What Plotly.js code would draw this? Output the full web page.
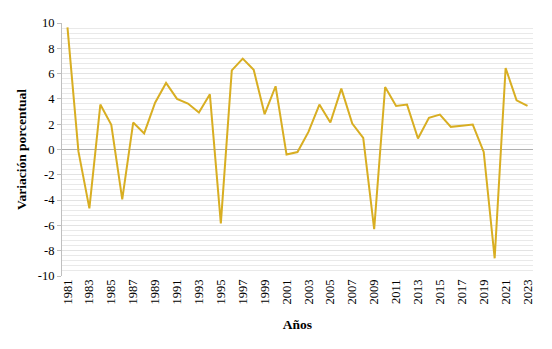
<!DOCTYPE html>
<html>
<head>
<meta charset="utf-8">
<script src="https://cdn.plot.ly/plotly-3.0.1.min.js"></script>
<style>
html,body{margin:0;padding:0;background:#fff;}
#chart{width:552px;height:349px;}
</style>
</head>
<body>
<div id="chart"></div>
<script>
const years = [1981,1982,1983,1984,1985,1986,1987,1988,1989,1990,
               1991,1992,1993,1994,1995,1996,1997,1998,1999,2000,
               2001,2002,2003,2004,2005,2006,2007,2008,2009,2010,
               2011,2012,2013,2014,2015,2016,2017,2018,2019,2020,
               2021,2022,2023];
const variacion = [9.65,-0.15,-4.65,3.55,1.95,-3.95,2.13,1.27,3.7,5.26,
                   4.0,3.63,2.92,4.36,-5.84,6.26,7.18,6.3,2.79,5.0,
                   -0.4,-0.2,1.39,3.55,2.13,4.81,2.05,0.92,-6.3,4.94,
                   3.44,3.55,0.87,2.5,2.76,1.79,1.87,1.97,-0.19,-8.6,
                   6.44,3.89,3.44];
const xTickYears = [1981,1983,1985,1987,1989,1991,1993,1995,1997,1999,
                    2001,2003,2005,2007,2009,2011,2013,2015,2017,2019,2021,2023];
const yTickVals = [-10,-8,-6,-4,-2,0,2,4,6,8,10];
const yTickText = ["-10","-8","-6","-4","-2","0","2","4","6","8","10"];

const serif = "Liberation Serif, Times New Roman, serif";

const trace = {
  x: years,
  y: variacion,
  type: "scatter",
  mode: "lines",
  line: {color: "#D8AE22", width: 2},
  hoverinfo: "x+y"
};

const layout = {
  width: 552,
  height: 349,
  margin: {l: 62, r: 19, t: 23, b: 73},
  paper_bgcolor: "#ffffff",
  plot_bgcolor: "#ffffff",
  showlegend: false,
  font: {family: serif, color: "#000000", size: 12},
  xaxis: {
    range: [1980.5, 2023.5],
    tickmode: "array",
    tickvals: xTickYears,
    ticktext: xTickYears.map(String),
    tickangle: -90,
    showgrid: false,
    zeroline: false,
    showline: false,
    ticks: "",
    tickfont: {family: serif, size: 12.5, color: "#000"},
    title: {text: "<b>Años</b>", font: {family: serif, size: 13.5, color: "#000"}, standoff: 16}
  },
  yaxis: {
    range: [-10, 10],
    tickmode: "array",
    tickvals: yTickVals,
    ticktext: yTickText,
    showgrid: true,
    gridcolor: "#e3e3e3",
    gridwidth: 1,
    minor: {dtick: 0.4, tick0: 0, showgrid: true, gridcolor: "#e9e9e9", gridwidth: 1, ticks: ""},
    zeroline: true,
    zerolinecolor: "#b0b0b0",
    zerolinewidth: 1,
    showline: true,
    linecolor: "#bfbfbf",
    linewidth: 1,
    ticks: "outside",
    ticklen: 4,
    tickcolor: "#bfbfbf",
    tickfont: {family: serif, size: 12.5, color: "#000"},
    title: {text: "<b>Variación porcentual</b>", font: {family: serif, size: 13.5, color: "#000"}, standoff: 8}
  }
};

Plotly.newPlot("chart", [trace], layout, {displayModeBar: false, staticPlot: true});
</script>
</body>
</html>
